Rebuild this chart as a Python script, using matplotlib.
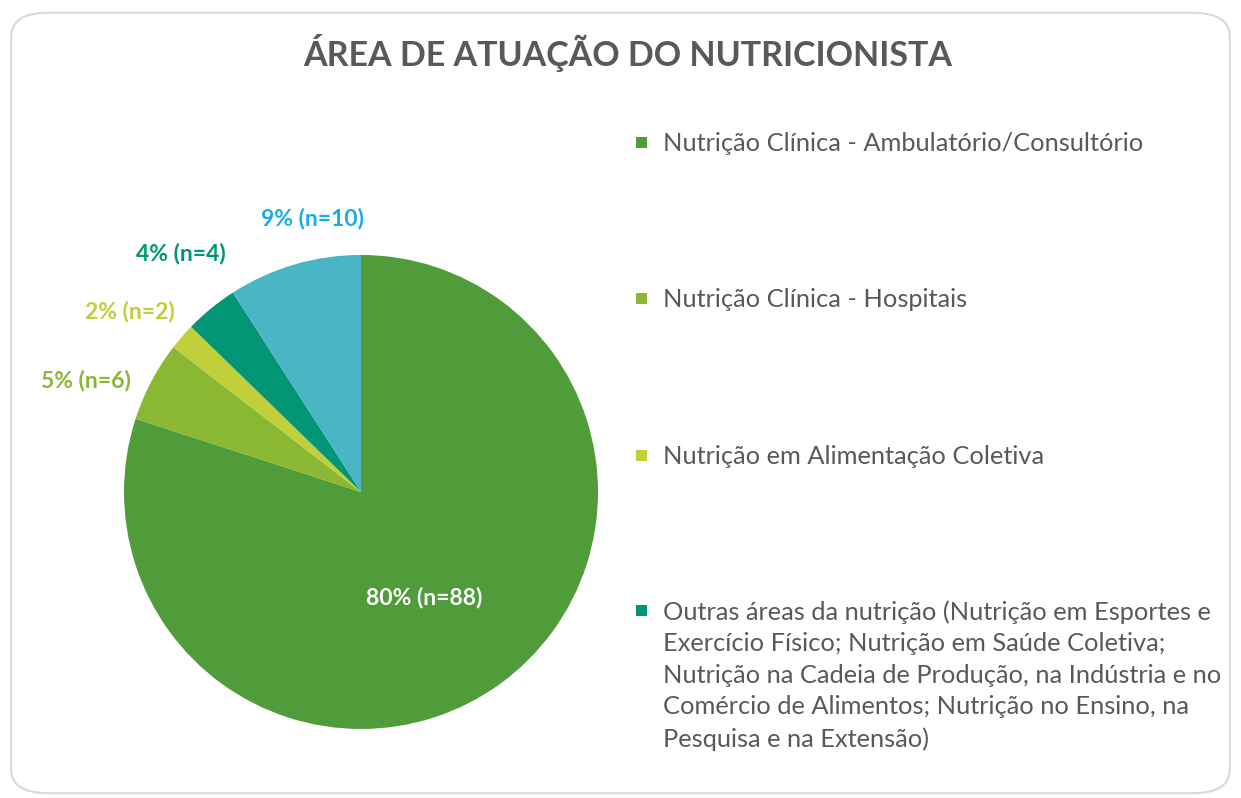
import numpy as np
import matplotlib.pyplot as plt
from matplotlib.patches import FancyBboxPatch, Rectangle

# dados do gráfico
categorias = [
    "Nutrição Clínica - Ambulatório/Consultório",
    "Nutrição Clínica - Hospitais",
    "Nutrição em Alimentação Coletiva",
    "Outras áreas da nutrição (Nutrição em Esportes e\nExercício Físico; Nutrição em Saúde Coletiva;\n"
    "Nutrição na Cadeia de Produção, na Indústria e no\nComércio de Alimentos; Nutrição no Ensino, na\n"
    "Pesquisa e na Extensão)",
    "Outros",
]
contagens = [88, 6, 2, 4, 10]
percentuais = [80, 5, 2, 4, 9]
cores = ["#519C3A", "#8AB833", "#C0CF3A", "#029676", "#4AB5C4"]
cores_rotulo = ["white", "#8AB833", "#C0CF3A", "#029676", "#1CADE4"]

# posição dos rótulos (ângulo em graus, distância relativa ao raio), como no Excel
rot_ang = [-58.9, 158, 142, 127, 100]
rot_dist = [0.52, 1.25, 1.24, 1.26, 1.17]

plt.rcParams['font.family'] = ['Lato', 'DejaVu Sans']

fig = plt.figure(figsize=(12.41, 7.98), dpi=100)

# moldura arredondada
moldura = FancyBboxPatch((0.009, 0.006), 0.982, 0.978, transform=fig.transFigure,
                         boxstyle="round,pad=0,rounding_size=0.03",
                         facecolor="white", edgecolor="#D9D9D9", linewidth=1.5, zorder=-10)
fig.patches.append(moldura)

ax = fig.add_axes([0.0999, 0.0865, 0.382, 0.594])
wedges, textos = ax.pie(contagens, colors=cores, startangle=90, counterclock=False,
                        radius=1, labels=[f"{p}% (n={n})" for p, n in zip(percentuais, contagens)],
                        wedgeprops=dict(linewidth=0))
for i, t in enumerate(textos):
    a = np.deg2rad(rot_ang[i])
    t.set_position((rot_dist[i] * np.cos(a), rot_dist[i] * np.sin(a)))
    t.set_ha("center")
    t.set_va("center")
    t.set_color(cores_rotulo[i])
    t.set_fontsize(16.5)
    t.set_fontweight("bold")

ax.set_xlim(-1, 1)
ax.set_ylim(-1, 1)
ax.set_aspect("equal")

fig.text(0.506, 0.934, "ÁREA DE ATUAÇÃO DO NUTRICIONISTA", ha="center", va="center",
         fontsize=24.5, fontweight="bold", color="#595959")

# legenda (só as quatro primeiras categorias aparecem)
leg_y = [0.822, 0.6266, 0.4298, 0.2356]
for cat, cor, yy in zip(categorias[:4], cores[:4], leg_y):
    fig.patches.append(Rectangle((0.5125, yy - 0.0075), 0.0085, 0.0132,
                                 transform=fig.transFigure, facecolor=cor, edgecolor="none"))
    fig.text(0.534, yy + 0.0125, cat, ha="left", va="top", fontsize=18.3,
             color="#595959", linespacing=1.45)

plt.savefig("out.png", dpi=100)
